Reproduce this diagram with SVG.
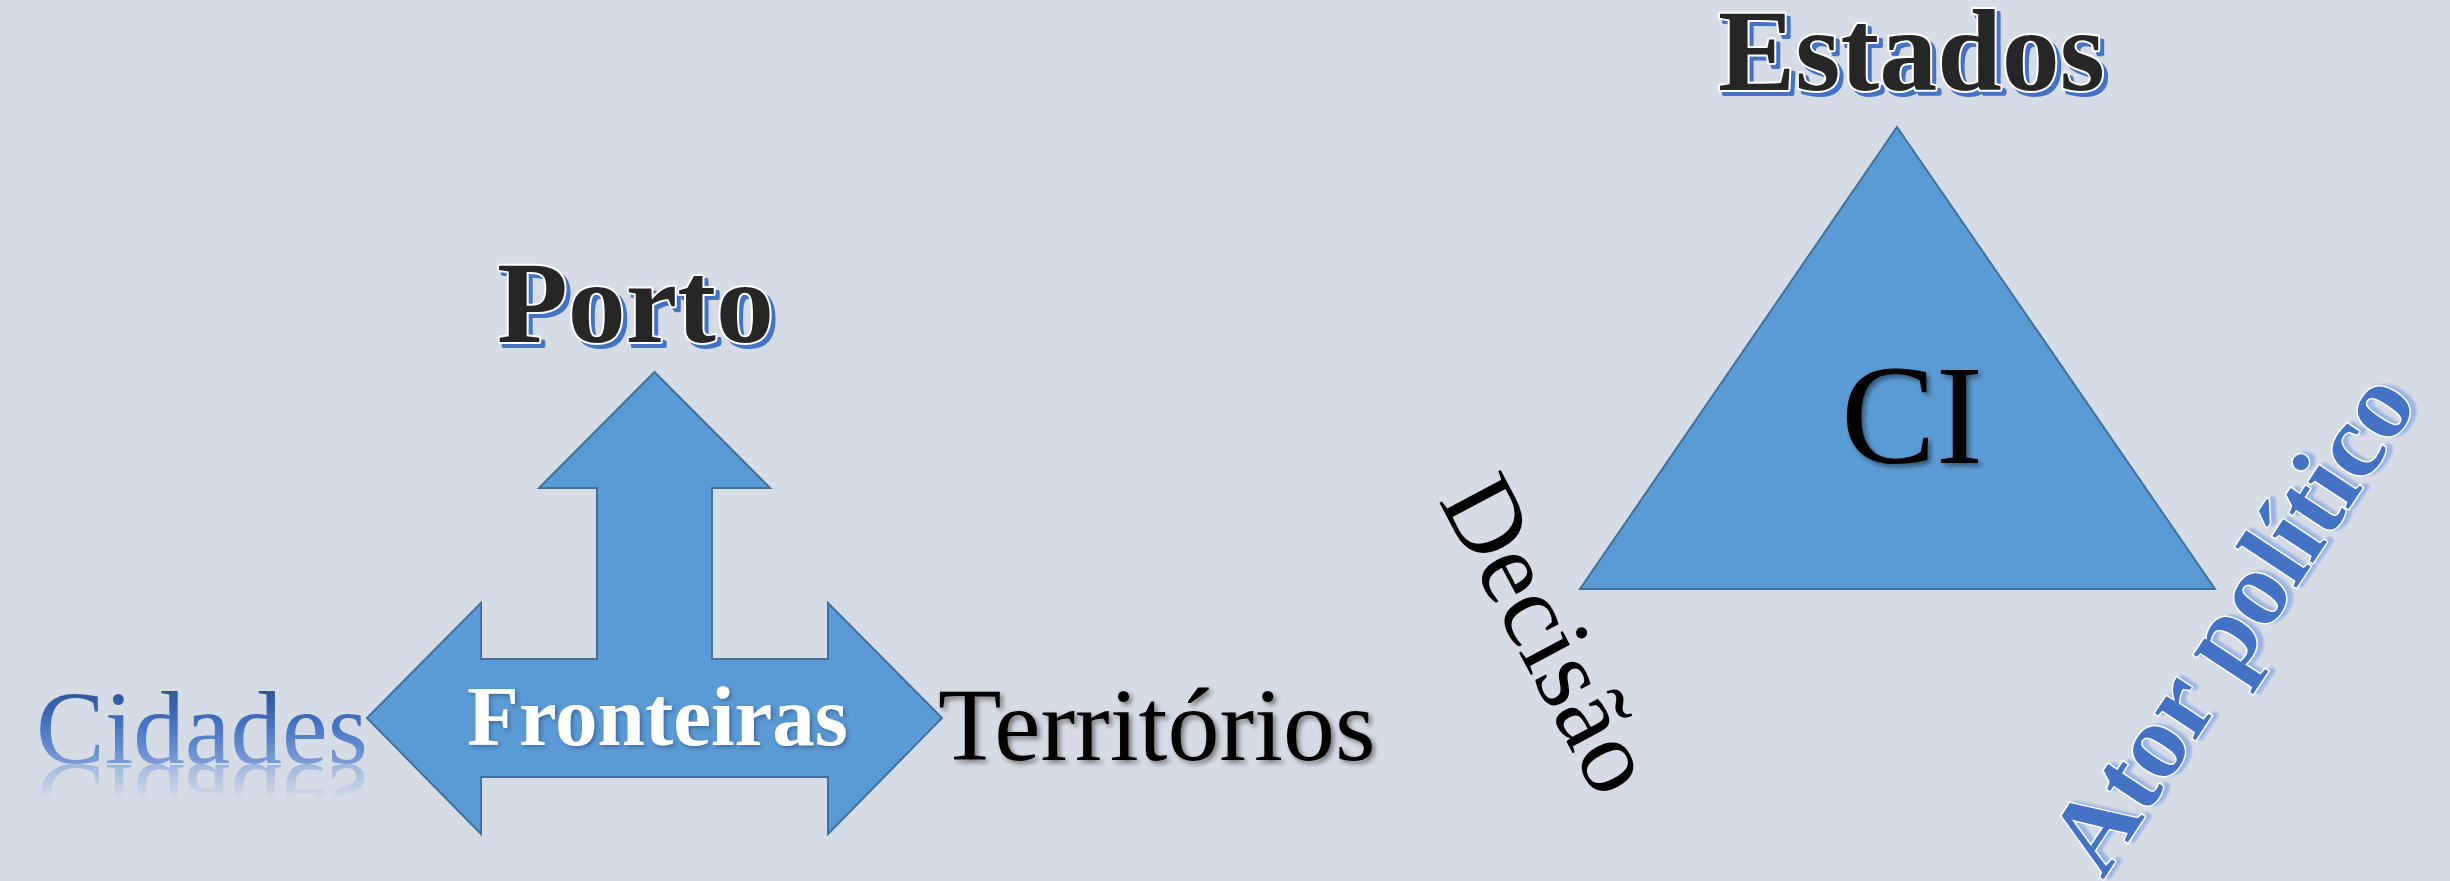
<svg xmlns="http://www.w3.org/2000/svg" width="2450" height="881" viewBox="0 0 2450 881">
<style>
.bg{fill:#D6DCE5}
.shape{fill:#5B9BD5;stroke:#41719C;stroke-width:2;stroke-linejoin:miter}
.serif{font-family:"Liberation Serif","Times New Roman",serif}
.b{font-weight:bold}
.outl{fill:#262626;stroke:#FFFFFF;stroke-width:4;paint-order:stroke;stroke-linejoin:round}
.shd{fill:#4472C4;stroke:#4472C4;stroke-width:4;stroke-linejoin:round}
.ator{fill:#4472C4;stroke:#FFFFFF;stroke-width:3;paint-order:stroke;stroke-linejoin:round}
.atorshd{fill:#9DB5E3;stroke:#9DB5E3;stroke-width:3;stroke-linejoin:round}
</style>
<defs>
<filter id="soft" x="-10%" y="-20%" width="120%" height="140%">
<feDropShadow dx="3" dy="3" stdDeviation="2.5" flood-color="#000" flood-opacity="0.45"/>
</filter>
<filter id="softw" x="-10%" y="-20%" width="120%" height="140%">
<feDropShadow dx="2" dy="2" stdDeviation="2" flood-color="#1F3864" flood-opacity="0.5"/>
</filter>
<filter id="blur1" x="-10%" y="-20%" width="120%" height="140%">
<feGaussianBlur stdDeviation="1.2"/>
</filter>
<linearGradient id="cidGrad" gradientUnits="userSpaceOnUse" x1="0" y1="690" x2="0" y2="765">
<stop offset="0" stop-color="#2F5597"/>
<stop offset="0.45" stop-color="#4472C4"/>
<stop offset="1" stop-color="#7F9FD8"/>
</linearGradient>
<linearGradient id="reflGrad" gradientUnits="userSpaceOnUse" x1="0" y1="765" x2="0" y2="800">
<stop offset="0" stop-color="#fff" stop-opacity="0.75"/>
<stop offset="1" stop-color="#fff" stop-opacity="0"/>
</linearGradient>
<mask id="reflMask" maskUnits="userSpaceOnUse" x="0" y="760" width="400" height="50">
<rect x="0" y="763" width="400" height="45" fill="url(#reflGrad)"/>
</mask>
</defs>
<rect class="bg" x="0" y="0" width="2450" height="881"/>

<g id="connectors">
<polygon id="arrow-left-right-up" class="shape" points="654.5,372 770,488 712,488 712,659 828,659 828,603 942,718 828,834 828,777 481,777 481,834 367,718 481,603 481,659 597,659 597,488 539,488"/>
</g>

<g id="node-fronteiras">
<text class="serif b" x="467" y="745" font-size="85" fill="#FFFFFF" filter="url(#softw)">Fronteiras</text>
</g>

<g id="node-porto">
<text class="serif b shd" x="501" y="346" font-size="116">Porto</text>
<text class="serif b outl" x="497" y="342" font-size="116">Porto</text>
</g>

<g id="node-cidades">
<g mask="url(#reflMask)">
<text class="serif" x="36" y="765" font-size="103" fill="#8FAADC" transform="matrix(1 0 0 -1 0 1530)">Cidades</text>
</g>
<text class="serif" x="36" y="763" font-size="103" fill="url(#cidGrad)">Cidades</text>
</g>

<g id="node-territorios">
<text class="serif" x="938" y="760" font-size="104" fill="#000000" filter="url(#soft)">Territórios</text>
</g>

<g id="node-ci">
<polygon class="shape" points="1897,127 2215,589 1580,589"/>
<text class="serif" x="1912" y="463" font-size="142" text-anchor="middle" fill="#000000" filter="url(#soft)">CI</text>
</g>

<g id="node-estados">
<text class="serif b shd" x="1722" y="94" font-size="116">Estados</text>
<text class="serif b outl" x="1718" y="90" font-size="116">Estados</text>
</g>

<g id="node-decisao">
<text class="serif" font-size="106" fill="#000000" transform="translate(1438,500) rotate(62)">Decisão</text>
</g>

<g id="node-ator">
<g transform="translate(2103,880) rotate(-56.5)">
<text class="serif b atorshd" x="4" y="4" font-size="106" filter="url(#blur1)">Ator político</text>
<text class="serif b ator" x="0" y="0" font-size="106">Ator político</text>
</g>
</g>
</svg>
